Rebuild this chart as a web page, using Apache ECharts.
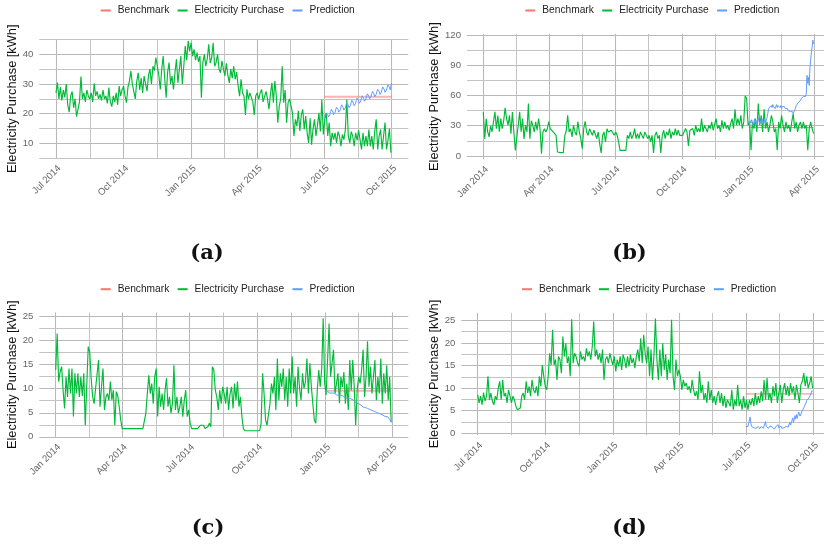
<!DOCTYPE html>
<html>
<head>
<meta charset="utf-8">
<script src="https://cdn.jsdelivr.net/npm/echarts@6/dist/echarts.min.js"></script>
<style>
  html, body { margin: 0; padding: 0; background: #ffffff; }
  #chart { width: 824px; height: 545px; }
</style>
</head>
<body>
<div id="chart"></div>
<script>
// Electricity purchase of four buildings: observed purchase (every second day),
// daily model prediction and a flat benchmark for the evaluation period.
const purchaseStep = 2; // days between purchase readings

// ---- building (a) ----
const purchaseStartA = '2014-07-01';
const purchaseA = [
  27, 30.5, 25, 29, 24.5, 28, 25.5, 30, 23, 20.5, 26, 27.5, 22, 25, 19, 18.6, 24, 32.5, 25, 27, 24, 28, 26,
  25, 27, 24, 30.2, 26, 27.5, 25, 26.5, 24.5, 28, 25, 26, 23.5, 28.8, 24, 22.4, 26, 24, 27, 23, 29.3, 26, 28,
  29.3, 26, 23.7, 29, 31, 34.4, 30, 30.4, 25, 31, 33.8, 28, 32, 27, 32.7, 30, 27.6, 33, 35, 30, 36, 34.5, 38.9,
  36, 33, 28.2, 35, 39.4, 32, 25.4, 34, 37.2, 30, 32.7, 28.2, 33.8, 38.3, 30.4, 35, 39.4, 29.9, 36, 42.8, 38, 44.5, 41,
  43.9, 39.4, 41.7, 38, 40.6, 37.5, 39.4, 25.4, 37.2, 40, 36, 38.5, 43.4, 37, 38.9, 43.9, 36, 37.2, 40, 35, 33.8, 37.8, 35,
  32.7, 37, 33, 30.4, 35, 32, 36, 31.6, 34, 29.3, 25.9, 31.6, 27, 25.9, 19.6, 28.2, 24.8, 27, 27.6, 24, 19.6, 26, 27.1,
  24.8, 27, 28.2, 24, 23.7, 27.5, 25, 21.5, 26.5, 30.4, 23.7, 31, 26, 17, 22.6, 25, 36, 23.7, 28, 17, 23.7, 25, 24.8,
  20.3, 12.5, 18.1, 15.8, 21, 14.2, 19.5, 21.5, 14.7, 19.2, 13.5, 10.2, 18.5, 9.6, 15, 18.1, 12.5, 16, 20.3, 14, 24.8, 13, 18.1,
  20.3, 12.5, 17, 9.1, 13.6, 11.3, 13.6, 10.2, 14, 12.5, 9.1, 13, 11.3, 14.7, 24.8, 12.5, 10.2, 14, 12.5, 9.1, 13.6, 11, 14.5,
  11.3, 8, 13.6, 9.1, 12.5, 9.1, 14.7, 9.1, 12.5, 8, 14.2, 18.1, 8, 12.5, 14.7, 8, 12.5, 17, 8, 11, 15, 6.9
];
const predictionStartA = '2015-07-01';
const predictionA = [
  18.2, 19.0, 20.0, 20.6, 20.5, 19.8, 18.9,
  19.0, 19.8, 20.8, 21.5, 21.4, 20.6, 19.7,
  19.7, 20.5, 21.5, 22.2, 22.1, 21.4, 20.5,
  20.5, 21.3, 22.3, 23.0, 22.8, 22.1, 21.2,
  21.2, 22.0, 23.0, 23.7, 23.6, 22.9, 22.0,
  22.0, 22.8, 23.8, 24.5, 24.3, 23.6, 22.7,
  22.7, 23.5, 24.5, 25.2, 25.1, 24.4, 23.5,
  23.5, 24.3, 25.3, 26.0, 25.8, 25.1, 24.2,
  24.2, 25.0, 26.0, 26.7, 26.6, 25.9, 25.0,
  25.0, 25.8, 26.8, 27.5, 27.3, 26.6, 25.7,
  25.7, 26.5, 27.5, 28.2, 28.1, 27.4, 26.5,
  26.5, 27.3, 28.3, 29.0, 28.8, 28.1, 27.2,
  27.2, 28.0, 29.0, 29.7, 29.6, 28.9, 28.0,
  29.3, 30.3
];
const benchmarkA = 25.7;
const benchmarkSpanA = ['2015-07-01', '2015-10-01'];
const xTicksA = ['2014-07-01', '2014-10-01', '2015-01-01', '2015-04-01', '2015-07-01', '2015-10-01'];
const yTicksA = [10, 20, 30, 40];

// ---- building (b) ----
const purchaseStartB = '2014-01-01';
const purchaseB = [
  43.7, 17, 37, 24, 19, 30, 24, 34, 43.7, 27, 40, 24, 37, 27, 35, 47.7, 37, 30.5, 40.4, 22, 43.7, 24, 5.6,
  5.6, 30.5, 43.7, 24, 37, 17, 30.5, 24, 52, 17, 35, 30.5, 23.8, 33.8, 25.5, 37, 27, 2.3, 23.8, 27, 23.8, 27, 34,
  27, 28.8, 23.8, 22, 20.5, 4, 3.3, 3.3, 3.3, 3.3, 20, 25, 40.4, 23.8, 27, 19, 30.5, 23.8, 20.5, 34, 23.8, 17.2, 7.3,
  27, 34.4, 23.8, 20.5, 27, 23.8, 20.5, 25.5, 23.8, 17.2, 23.8, 12, 3, 20.5, 23.8, 13.9, 27, 23.8, 22, 25.5, 23.8, 20.5, 23.8,
  20.5, 13.9, 5.6, 5.6, 5.6, 5.6, 5.6, 20.5, 17.2, 23.8, 17.2, 20.5, 27.2, 17.2, 22.2, 17.2, 23.8, 20.5, 17.2, 23.8, 20.5, 17.2, 20.5,
  13.9, 20.5, 3, 20.5, 23.8, 17.2, 20.5, 3, 20.5, 25.5, 17.2, 23.8, 20.5, 27.2, 17.2, 23.8, 20.5, 27.2, 20.5, 25.5, 20.5, 22.2, 20.5,
  20.5, 27.2, 23.8, 10, 25.5, 23.8, 27.2, 20.5, 30.5, 23.8, 27.2, 23.8, 37.1, 23.8, 30.5, 27.2, 23.8, 30.5, 27.2, 33.8, 25.5, 27.2, 37.1,
  27.2, 30.5, 23.8, 35.4, 27.2, 33.8, 27.2, 30.5, 25.5, 32.1, 37.1, 27.2, 46.4, 30.5, 37.1, 30.5, 40.4, 27.2, 33.8, 59.6, 57, 30.5, 33.8,
  5.6, 33.8, 27.2, 37.1, 23.8, 52, 30.5, 40.4, 23.8, 46.4, 27.2, 33.8, 23.8, 30.5, 40.4, 33.8, 23.8, 27.2, 5.6, 33.8, 27.2, 40.4,
  30.5, 23.8, 33.8, 27.2, 30.5, 23.8, 33.8, 42, 27.2, 33.8, 23.8, 30.5, 33.8, 27.2, 33.8, 27.2, 30.5, 5.6, 27.2, 33.8, 27.2, 22.2
];
const predictionStartB = '2015-01-01';
const predictionB = [
  34, 31, 35, 33, 36, 32, 30, 34, 37, 33, 35, 31, 36, 38, 34, 32, 35, 33, 37, 35, 31, 34, 36, 33, 35, 38,
  42, 46, 48, 47, 49,
  50, 48, 51, 49, 50, 47, 49, 51, 48, 50, 49, 51, 48, 50, 47, 49, 50, 48, 49, 47, 48, 46, 47, 45, 46,
  45, 44, 44, 43, 44, 42, 42, 43,
  47, 50, 49, 51, 53, 52, 54, 55, 57,
  58, 57, 59, 58, 60, 59, 62,
  80, 72, 78, 70, 88, 95, 103, 108, 115, 111
];
const benchmarkB = 28.3;
const benchmarkSpanB = ['2015-01-01', '2015-03-31'];
const xTicksB = ['2014-01-01', '2014-04-01', '2014-07-01', '2014-10-01', '2015-01-01', '2015-04-01'];
const yTicksB = [0, 30, 60, 90, 120];

// ---- building (c) ----
const purchaseStartC = '2014-01-01';
const purchaseC = [
  13.9, 21.5, 11.5, 13.5, 14.6, 9.7, 5.9, 12.5, 8.3, 14.2, 9, 14.2, 4.2, 13.2, 9, 13.2, 8.3, 12.5, 8.5, 13.2, 2.4, 2.1, 18.75,
  17.7, 12.2, 8.3, 6.9, 10.1, 9.7, 16, 6.25, 10.4, 14.2, 5.6, 8.3, 9, 7.6, 11.5, 7.6, 9.7, 2.4, 9.4, 8.5, 6.25, 3.5, 1.7,
  1.7, 1.7, 1.7, 1.7, 1.7, 1.7, 1.7, 1.7, 1.7, 1.7, 1.7, 1.7, 1.7, 1.7, 1.7, 4.9, 9, 12.8, 9, 11.1, 6.9, 12.5, 14.2,
  4.2, 10.4, 6.25, 9, 5.6, 9.7, 12.2, 6.25, 8.3, 4.9, 6.9, 14.9, 5.6, 8.3, 4.9, 6.25, 8.3, 4.2, 7.6, 9.7, 4.2, 5.6, 2.8,
  1.7, 1.7, 1.7, 1.7, 1.7, 2.1, 2.4, 2.1, 2.4, 1.7, 1.7, 2.1, 2.8, 2.1, 14.6, 13.9, 9.7, 8.3, 5.6, 9.7, 6.9, 10.4, 9,
  6.9, 10.4, 5.6, 9, 10.4, 5.9, 11.1, 7.6, 11.5, 6.25, 8.3, 4.2, 1.7, 1.25, 1.25, 1.25, 1.25, 1.25, 1.25, 1.25, 1.25, 1.25, 1.25,
  1.25, 2.8, 13.2, 9, 3.5, 2.4, 2.8, 6.9, 11.1, 9, 12.5, 5.6, 16.3, 7.6, 13.2, 10.4, 14.2, 7.6, 12.5, 6.25, 14.2, 9, 16.7,
  9, 12.5, 6.25, 14.6, 10.1, 7.6, 13.2, 10.1, 11.5, 16.3, 9, 15.3, 10.4, 6.9, 3.5, 2.8, 9.7, 13.9, 10.4, 14.2, 24.7, 11.1, 8.7,
  9, 23.6, 12.5, 15.3, 18.1, 9, 11.1, 13.2, 7, 12.5, 10.4, 13.5, 6.9, 11.1, 5.6, 16, 9.7, 16, 10.4, 2.4, 9.7, 12.5,
  11.1, 13.9, 18.1, 8.3, 12.5, 19.9, 10.4, 14.6, 9, 12.5, 16, 7.6, 12.5, 9, 16.3, 6.9, 13.2, 9, 14.9, 7.6, 12.5, 3
];
const predictionStartC = '2015-01-01';
const predictionC = [
  9.6, 9.5, 9.3, 9.4, 9.2, 9.3, 9.1, 9.0, 9.2, 9.1,
  9.0, 8.9, 9.1, 8.8, 8.9, 8.7, 8.8, 8.6, 8.7, 8.6,
  8.5, 8.6, 8.4, 8.3, 8.5, 8.2, 8.3, 8.1, 8.2, 8.0,
  8.1, 7.9, 7.8, 8.0, 7.7, 7.6, 7.8, 7.5, 7.4, 7.5,
  7.3, 7.2, 7.0, 7.1, 6.8, 6.9, 6.7, 6.5, 6.6, 6.4,
  6.3, 6.2, 6.3, 6.0, 6.1, 5.9, 5.8, 5.9, 5.7, 5.6,
  5.7, 5.5, 5.4, 5.5, 5.3, 5.2, 5.3, 5.1, 5.0, 5.1,
  4.9, 4.8, 4.9, 4.7, 4.6, 4.7, 4.5, 4.4, 4.5, 4.3,
  4.4, 4.2, 4.3, 4.1, 4.2, 4.0, 3.8, 3.6, 3.3, 3.0
];
const benchmarkC = 9.6;
const benchmarkSpanC = ['2015-01-01', '2015-03-31'];
const xTicksC = ['2014-01-01', '2014-04-01', '2014-07-01', '2014-10-01', '2015-01-01', '2015-04-01'];
const yTicksC = [0, 5, 10, 15, 20, 25];

// ---- building (d) ----
const purchaseStartD = '2014-07-01';
const purchaseD = [
  8.5, 6.7, 8.2, 6.3, 9, 7.1, 8.2, 12.6, 7.4, 8.9, 7.1, 6.3, 8.2, 7.4, 10, 11.5, 7.4, 11.8, 8.2, 8.9, 6.7, 9.6, 8.2,
  6.7, 8.2, 7.4, 6, 5.2, 5.6, 5.6, 8.2, 8.9, 7.4, 11.5, 8.9, 10.4, 8.2, 11.8, 9.6, 8.9, 10.4, 8.2, 12.6, 10.4, 15.1, 12.6,
  10.4, 9.6, 12.6, 17.7, 15.1, 22.9, 15.1, 16.3, 11.8, 17, 16.3, 13.3, 21.4, 17, 19.9, 15.5, 17, 12.6, 25.2, 15.5, 17.7, 17, 15.5,
  14.8, 18.1, 16.3, 17, 15.9, 18.8, 17, 18.1, 16.3, 19.2, 24.7, 17, 18.5, 16.3, 17.7, 15.5, 18.5, 11.8, 16.3, 17, 15.5, 17.7, 16.3,
  15.1, 17, 13.7, 16.3, 14.8, 17, 14, 17.4, 16.3, 14.4, 17, 14.8, 17.4, 15.5, 16.6, 14.4, 17, 18.5, 15.9, 21, 15.5, 21.8, 17.7,
  15.5, 19.2, 12.6, 18.5, 11.8, 17.4, 25.4, 16.3, 11.8, 18.5, 12.6, 19.9, 14, 17.4, 11.8, 16.3, 13.3, 25.1, 12.6, 9.6, 16.3, 12.6, 14,
  12.6, 9.6, 11.8, 10.4, 11.1, 9.6, 10.4, 8.9, 11.8, 9.6, 8.2, 9.3, 7.4, 13.7, 8.9, 10.7, 7.4, 8.9, 6.7, 11.5, 7.4, 9.6, 6.7,
  8.2, 6.3, 8.2, 9.3, 6.7, 8.9, 6, 8.2, 5.6, 7.4, 6.7, 6, 9.6, 5.2, 7.4, 6, 10.7, 6, 7.4, 5.2, 8.2, 5.6, 7.4,
  5.2, 7.4, 6.3, 7.8, 6, 8.9, 6.3, 8.2, 6.7, 9.3, 7.1, 11.8, 7.4, 12.2, 7.4, 8.9, 6.7, 10.4, 8.2, 11.1, 6.7, 8.9, 10.7,
  6.7, 9.6, 11.1, 8.5, 10.4, 8.2, 11.1, 8.9, 10.4, 7.4, 10.7, 8.9, 6.7, 10.7, 11.5, 13.3, 10.4, 12.6, 10, 11.1, 12.6, 10
];
const predictionStartD = '2015-07-01';
const predictionD = [
  1.5, 1.4, 1.6, 1.5, 1.4, 1.7, 3.6, 2.2, 1.5, 1.3,
  1.4, 1.2, 1.5, 1.3, 1.1, 1.4, 1.2, 1.5, 1.3, 1.0,
  1.3, 1.5, 1.2, 1.4, 1.1, 1.6, 1.9, 2.6, 1.5, 1.2,
  1.4, 1.1, 1.3, 1.6, 1.2, 1.9, 1.4, 1.0, 1.3, 0.9,
  1.2, 1.5, 1.1, 1.4, 1.9, 1.2, 0.8, 1.3, 1.6, 1.1,
  1.4, 1.0, 1.2, 0.8, 1.1, 1.5, 1.3, 1.9, 1.4, 1.6,
  2.5, 1.8, 2.3, 2.0, 3.4, 2.4, 2.6, 3.9, 3.1, 4.1,
  3.3, 3.0, 4.7, 4.9, 3.8, 3.75, 4.2, 5.0, 5.2, 5.4,
  6.0, 5.8, 6.7, 7.3, 7.0, 7.4, 7.8, 7.8, 8.4, 8.9,
  9.4, 9.3
];
const benchmarkD = 8.7;
const benchmarkSpanD = ['2015-07-01', '2015-10-01'];
const xTicksD = ['2014-07-01', '2014-10-01', '2015-01-01', '2015-04-01', '2015-07-01', '2015-10-01'];
const yTicksD = [0, 5, 10, 15, 20, 25];

const seriesNames = ['Benchmark', 'Electricity Purchase', 'Prediction'];
const colors = { bench: '#F8766D', purchase: '#00BA38', prediction: '#619CFF' };

// ---- helpers ----
const DAY_MS = 86400000;
const MONTHS = ['Jan', 'Feb', 'Mar', 'Apr', 'May', 'Jun', 'Jul', 'Aug', 'Sep', 'Oct', 'Nov', 'Dec'];
function dayOf(iso) {
  const [y, m, d] = iso.split('-').map(Number);
  return Date.UTC(y, m - 1, d) / DAY_MS;
}
function dateLabel(day) {
  const dt = new Date(Math.round(day) * DAY_MS);
  return MONTHS[dt.getUTCMonth()] + ' ' + dt.getUTCFullYear();
}
function points(startIso, step, values) {
  const s = dayOf(startIso);
  return values.map((v, i) => [s + i * step, v]);
}
// grid lines: every tick plus the halfway points between ticks (inside the range)
function withMinor(ticks, lo, hi) {
  const out = ticks.map(t => ({ v: t, major: true }));
  for (let i = 0; i < ticks.length - 1; i++) out.push({ v: (ticks[i] + ticks[i + 1]) / 2, major: false });
  if (ticks.length > 1) {
    const first = ticks[0] - (ticks[1] - ticks[0]) / 2;
    const last = ticks[ticks.length - 1] + (ticks[ticks.length - 1] - ticks[ticks.length - 2]) / 2;
    out.push({ v: first, major: false }, { v: last, major: false });
  }
  return out.filter(o => o.v >= lo - 1e-9 && o.v <= hi + 1e-9);
}

// ---- panel layout ----
const panels = [
  { purchaseStart: purchaseStartA, purchase: purchaseA, predictionStart: predictionStartA, prediction: predictionA,
    benchmark: benchmarkA, benchmarkSpan: benchmarkSpanA, xTicks: xTicksA, yTicks: yTicksA,
    grid: { left: 39.3, top: 39.3, width: 369, height: 119 }, xPad: 22.7, yRange: [5, 45.05],
    legend: { left: 100.7, top: 5.5 }, nameGap: 16.5, caption: '(a)', captionAt: [207, 254],
    benchStyle: { width: 2, opacity: 0.55 } },
  { purchaseStart: purchaseStartB, purchase: purchaseB, predictionStart: predictionStartB, prediction: predictionB,
    benchmark: benchmarkB, benchmarkSpan: benchmarkSpanB, xTicks: xTicksB, yTicks: yTicksB,
    grid: { left: 467, top: 33.8, width: 363.6, height: 125.6 }, xPad: 22.4, yRange: [-3.4, 121.2],
    legend: { left: 525.3, top: 5.5 }, nameGap: 21.5, caption: '(b)', captionAt: [629.5, 254],
    benchStyle: { width: 1, opacity: 0.9 } },
  { purchaseStart: purchaseStartC, purchase: purchaseC, predictionStart: predictionStartC, prediction: predictionC,
    benchmark: benchmarkC, benchmarkSpan: benchmarkSpanC, xTicks: xTicksC, yTicks: yTicksC,
    grid: { left: 39.3, top: 312.4, width: 369, height: 124.6 }, xPad: 22.2, yRange: [-0.05, 25.9],
    legend: { left: 100.7, top: 284.2 }, nameGap: 16, caption: '(c)', captionAt: [208, 529],
    benchStyle: { width: 2, opacity: 0.55 } },
  { purchaseStart: purchaseStartD, purchase: purchaseD, predictionStart: predictionStartD, prediction: predictionD,
    benchmark: benchmarkD, benchmarkSpan: benchmarkSpanD, xTicks: xTicksD, yTicks: yTicksD,
    grid: { left: 461.3, top: 312.9, width: 368.4, height: 122.3 }, xPad: 22.3, yRange: [-0.43, 26.63],
    legend: { left: 522, top: 284.2 }, nameGap: 16, caption: '(d)', captionAt: [629.5, 529],
    benchStyle: { width: 1, opacity: 0.9 } }
];

const FONT = '"Liberation Sans", Arial, sans-serif';
const option = {
  animation: false,
  backgroundColor: '#ffffff',
  textStyle: { fontFamily: FONT },
  grid: [], xAxis: [], yAxis: [], series: [], legend: [], graphic: []
};

panels.forEach((p, i) => {
  const tickDays = p.xTicks.map(dayOf);
  const xMin = tickDays[0] - p.xPad;
  const xMax = tickDays[tickDays.length - 1] + p.xPad;

  option.grid.push(Object.assign({ containLabel: false, outerBoundsMode: 'none' }, p.grid));

  option.xAxis.push({
    gridIndex: i, type: 'value', min: xMin, max: xMax,
    axisLine: { show: false }, axisTick: { show: false }, splitLine: { show: false },
    axisLabel: {
      customValues: tickDays, formatter: dateLabel, rotate: 45, margin: 5,
      align: 'right', verticalAlign: 'top',
      fontSize: 9.6, color: '#666666', fontFamily: FONT
    }
  });

  option.yAxis.push({
    gridIndex: i, type: 'value', min: p.yRange[0], max: p.yRange[1],
    axisLine: { show: false }, axisTick: { show: false }, splitLine: { show: false },
    axisLabel: { customValues: p.yTicks, margin: 6, fontSize: 9.6, color: '#666666', fontFamily: FONT },
    name: 'Electricity Purchase [kWh]', nameLocation: 'middle', nameGap: p.nameGap,
    nameTextStyle: { fontSize: 12.8, color: '#111111', fontFamily: FONT }
  });

  // panel grid lines drawn from the axis scales
  const vLines = withMinor(tickDays, xMin, xMax).map(o => ({
    xAxis: o.v, lineStyle: { color: o.major ? '#b9b9b9' : '#c4c4c4', width: o.major ? 1.1 : 1 }
  }));
  const hLines = withMinor(p.yTicks, p.yRange[0], p.yRange[1]).map(o => ({
    yAxis: o.v, lineStyle: { color: o.major ? '#b9b9b9' : '#c4c4c4', width: o.major ? 1.1 : 1 }
  }));
  option.series.push({
    type: 'line', xAxisIndex: i, yAxisIndex: i, data: [], silent: true, z: 0,
    markLine: {
      silent: true, symbol: 'none', z: 0, animation: false,
      label: { show: false }, emphasis: { disabled: true },
      lineStyle: { type: 'solid' },
      data: vLines.concat(hLines)
    }
  });

  const benchData = p.benchmarkSpan.map(d => [dayOf(d), p.benchmark]);
  option.series.push({
    name: seriesNames[0], type: 'line', xAxisIndex: i, yAxisIndex: i, z: 3,
    data: benchData, showSymbol: false, symbol: 'none', color: colors.bench,
    lineStyle: { color: colors.bench, width: p.benchStyle.width, opacity: p.benchStyle.opacity }
  });
  option.series.push({
    name: seriesNames[1], type: 'line', xAxisIndex: i, yAxisIndex: i, z: 4,
    data: points(p.purchaseStart, purchaseStep, p.purchase), showSymbol: false, symbol: 'none',
    color: colors.purchase, lineStyle: { color: colors.purchase, width: 1.15 }
  });
  option.series.push({
    name: seriesNames[2], type: 'line', xAxisIndex: i, yAxisIndex: i, z: 5,
    data: points(p.predictionStart, 1, p.prediction), showSymbol: false, symbol: 'none',
    color: colors.prediction, lineStyle: { color: colors.prediction, width: 1 }
  });

  option.legend.push({
    data: seriesNames, left: p.legend.left, top: p.legend.top, padding: 0,
    orient: 'horizontal', itemGap: 8.4, itemWidth: 10, itemHeight: 2, icon: 'rect',
    selectedMode: false,
    textStyle: { fontSize: 10.2, color: '#222222', fontFamily: FONT, padding: [0, 0, 0, 2] }
  });

  option.graphic.push({
    type: 'text', x: p.captionAt[0], y: p.captionAt[1], silent: true,
    style: {
      text: p.caption, fill: '#111111', align: 'center', verticalAlign: 'middle',
      font: 'bold 21px "DejaVu Serif", serif'
    }
  });
});

const chart = echarts.init(document.getElementById('chart'), null, { renderer: 'canvas' });
chart.setOption(option);
</script>
</body>
</html>
